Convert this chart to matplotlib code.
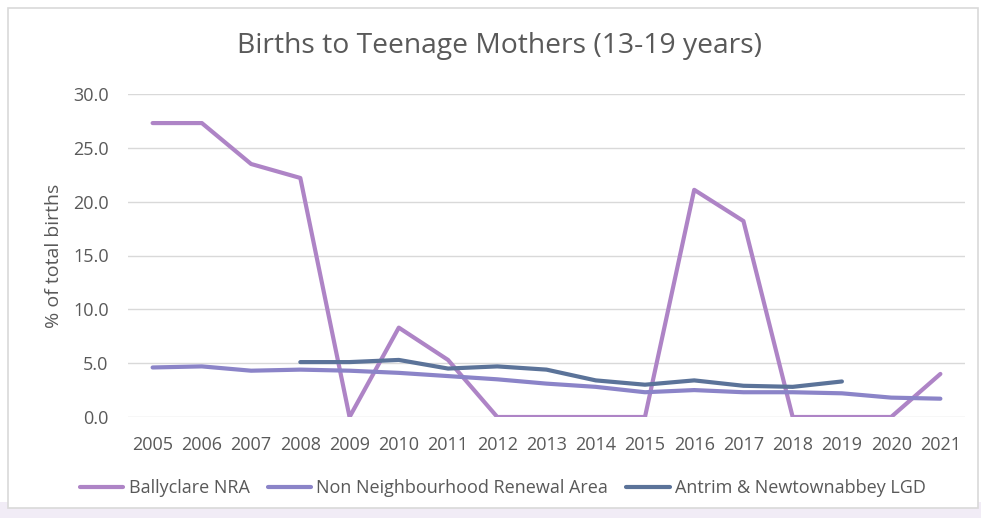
import matplotlib
matplotlib.use("Agg")
import matplotlib.pyplot as plt
from matplotlib.patches import Rectangle
import numpy as np

years = list(range(2005, 2022))
year_labels = [str(y) for y in years]
ballyclare = [27.3, 27.3, 23.5, 22.2, 0.0, 8.3, 5.3, 0.0, 0.0, 0.0, 0.0, 21.1, 18.2, 0.0, 0.0, 0.0, 4.0]
non_nra = [4.6, 4.7, 4.3, 4.4, 4.3, 4.1, 3.8, 3.5, 3.1, 2.8, 2.3, 2.5, 2.3, 2.3, 2.2, 1.8, 1.7]
lgd_years = list(range(2008, 2020))
lgd = [5.1, 5.1, 5.3, 4.5, 4.7, 4.4, 3.4, 3.0, 3.4, 2.9, 2.8, 3.3]
yticks = [0, 5, 10, 15, 20, 25, 30]

plt.rcParams['font.family'] = ['Open Sans', 'DejaVu Sans']
txt = '#595959'

fig = plt.figure(figsize=(9.81, 5.18), dpi=100)
fig.patch.set_facecolor('white')
# frame and bottom shadow
fig.patches.append(Rectangle((0, 0), 1, 16/518, transform=fig.transFigure,
                             facecolor='#f1ecf6', edgecolor='none', zorder=-3))
fig.patches.append(Rectangle((8/981, 10/518), 970/981, 500/518, transform=fig.transFigure,
                             facecolor='white', edgecolor='#d9d9d9', lw=1.2, zorder=-2))

ax = fig.add_axes([128/981, 101/518, 837/981, 323/518])
ax.set_facecolor('none')
x = np.arange(len(years))
lx = np.array([years.index(y) for y in lgd_years])
ax.plot(x, ballyclare, color='#ae84c6', lw=3, solid_capstyle='round', label='Ballyclare NRA', zorder=3)
ax.plot(x, non_nra, color='#8b84c8', lw=3, solid_capstyle='round', label='Non Neighbourhood Renewal Area', zorder=3)
ax.plot(lx, lgd, color='#5b7399', lw=3, solid_capstyle='round', label='Antrim & Newtownabbey LGD', zorder=3)

ax.set_xlim(-0.5, len(years) - 0.5)
ax.set_ylim(0, 30)
ax.set_yticks(yticks)
ax.set_yticklabels([f"{v:.1f}" for v in yticks])
ax.set_xticks(x)
ax.set_xticklabels(year_labels)
ax.grid(axis='y', color='#d9d9d9', lw=1)
ax.set_axisbelow(True)
for s in ax.spines.values():
    s.set_visible(False)
ax.tick_params(axis='both', length=0, labelsize=13, colors=txt)
ax.tick_params(axis='x', pad=14)
ax.tick_params(axis='y', pad=14)
ax.set_ylabel('% of total births', fontsize=14, color=txt)
ax.yaxis.set_label_coords(-0.078, 0.5)

fig.text(499/981, 1 - 46/518, 'Births to Teenage Mothers (13-19 years)', ha='center', va='center',
         fontsize=20.3, color=txt)

leg = ax.legend(loc='center', bbox_to_anchor=(503/981, 1 - 488/518), bbox_transform=fig.transFigure,
                ncol=3, frameon=False, handlelength=2.4, handletextpad=0.3,
                columnspacing=1.0, labelcolor=txt,
                prop={'family': ['Open Sans', 'DejaVu Sans'], 'size': 13})

fig.savefig('out.png', dpi=100, facecolor='white')
